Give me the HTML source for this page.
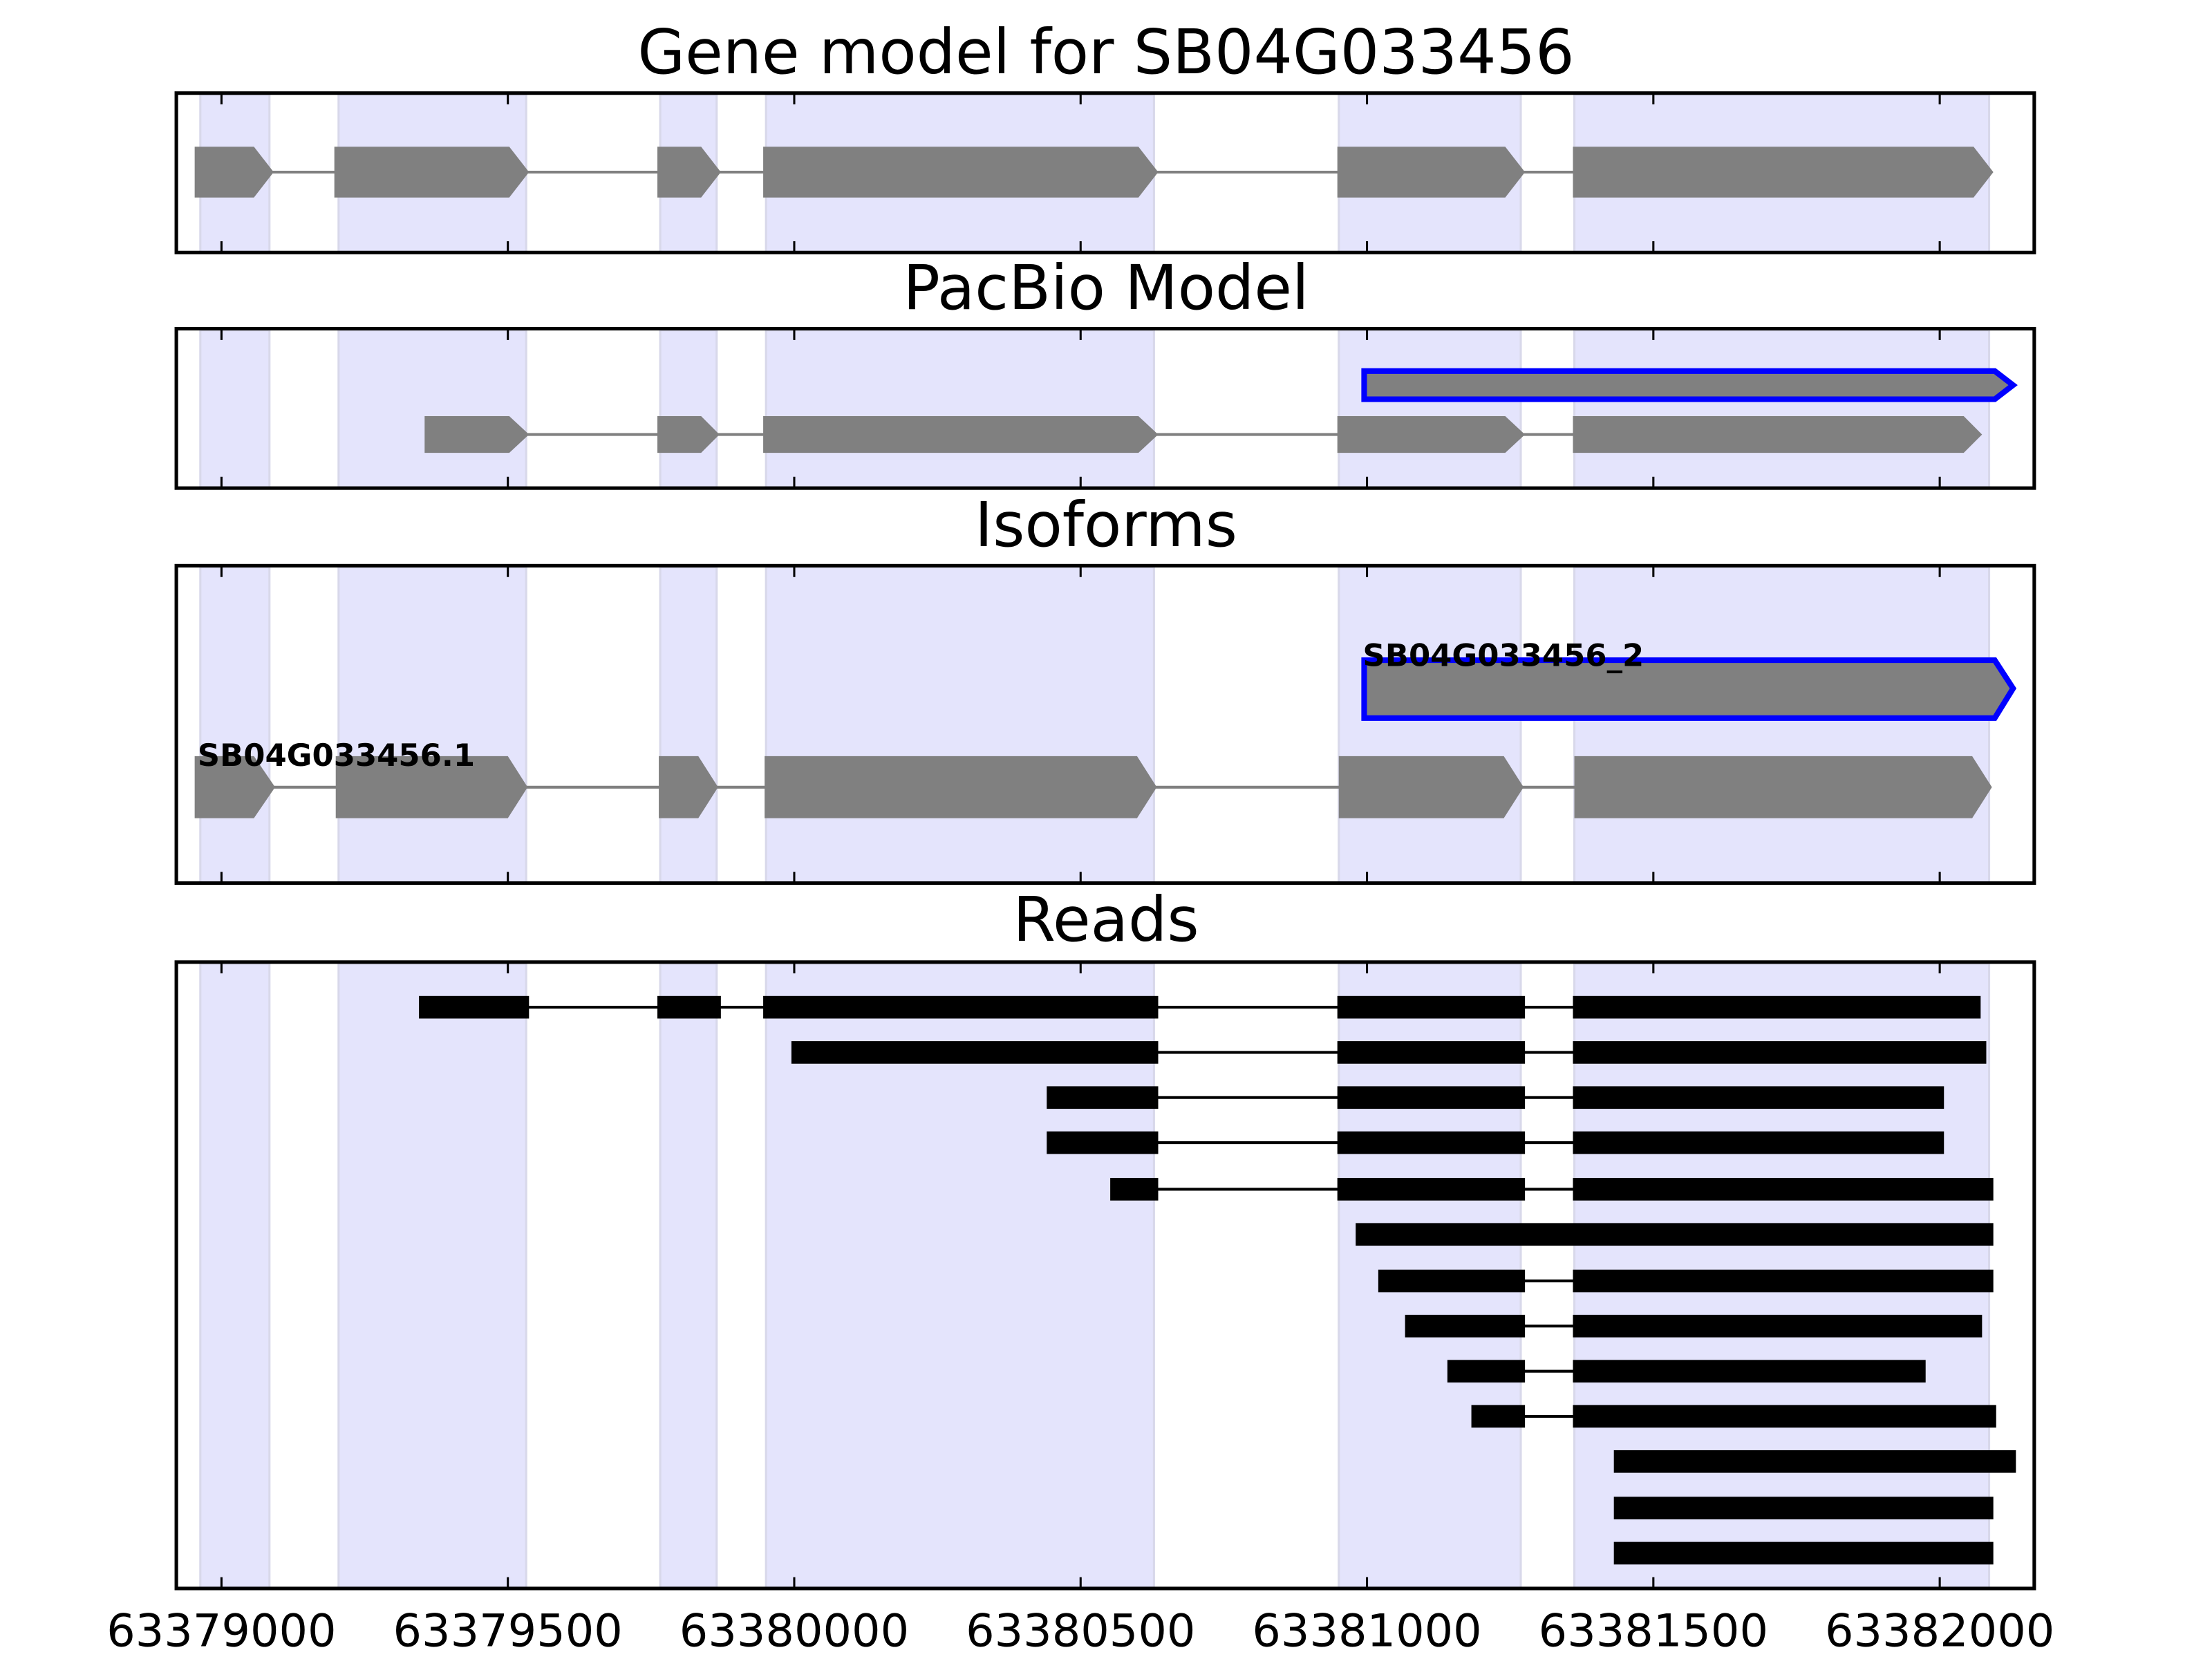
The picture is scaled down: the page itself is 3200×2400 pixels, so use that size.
<!DOCTYPE html>
<html><head><meta charset="utf-8"><style>html,body{margin:0;padding:0;background:#fff}svg{display:block}</style></head>
<body>
<svg width="3200" height="2400" viewBox="0 0 1568 1176" xmlns="http://www.w3.org/2000/svg" font-family="DejaVu Sans, Liberation Sans, sans-serif">
<g fill="#e4e4fc" stroke="#d8d8ea" stroke-width="1.5">
  <rect x="142" y="67" width="49" height="112"/><rect x="240" y="67" width="133" height="112"/><rect x="468" y="67" width="40" height="112"/><rect x="543" y="67" width="275" height="112"/><rect x="949" y="67" width="129" height="112"/><rect x="1116" y="67" width="294" height="112"/>
  <rect x="142" y="234" width="49" height="112"/><rect x="240" y="234" width="133" height="112"/><rect x="468" y="234" width="40" height="112"/><rect x="543" y="234" width="275" height="112"/><rect x="949" y="234" width="129" height="112"/><rect x="1116" y="234" width="294" height="112"/>
  <rect x="142" y="402" width="49" height="224"/><rect x="240" y="402" width="133" height="224"/><rect x="468" y="402" width="40" height="224"/><rect x="543" y="402" width="275" height="224"/><rect x="949" y="402" width="129" height="224"/><rect x="1116" y="402" width="294" height="224"/>
  <rect x="142" y="683" width="49" height="443"/><rect x="240" y="683" width="133" height="443"/><rect x="468" y="683" width="40" height="443"/><rect x="543" y="683" width="275" height="443"/><rect x="949" y="683" width="129" height="443"/><rect x="1116" y="683" width="294" height="443"/>
</g>

<g fill="#808080">
  <line x1="180" y1="122" x2="1400" y2="122" stroke="#808080" stroke-width="2"/>
  <polygon points="138,104 180,104 194,122 180,140 138,140"/>
  <polygon points="237,104 361,104 375,122 361,140 237,140"/>
  <polygon points="466,104 497,104 511,122 497,140 466,140"/>
  <polygon points="541,104 807,104 821,122 807,140 541,140"/>
  <polygon points="948,104 1067,104 1081,122 1067,140 948,140"/>
  <polygon points="1115,104 1399,104 1413,122 1399,140 1115,140"/>
</g>

<polygon points="967,263 1414,263 1427,273 1414,283 967,283" fill="#808080" stroke="#0000ff" stroke-width="4"/>
<g fill="#808080">
  <line x1="360" y1="308" x2="1395" y2="308" stroke="#808080" stroke-width="2"/>
  <polygon points="301,295 361,295 375,308 361,321 301,321"/>
  <polygon points="466,295 497,295 510,308 497,321 466,321"/>
  <polygon points="541,295 807,295 821,308 807,321 541,321"/>
  <polygon points="948,295 1067,295 1081,308 1067,321 948,321"/>
  <polygon points="1115,295 1392,295 1405,308 1392,321 1115,321"/>
</g>

<polygon points="967,468 1414,468 1427,488 1414,509 967,509" fill="#808080" stroke="#0000ff" stroke-width="4"/>
<g fill="#808080">
  <line x1="180" y1="558" x2="1400" y2="558" stroke="#808080" stroke-width="2"/>
  <polygon points="138,536 180,536 195,558 180,580 138,580"/>
  <polygon points="238,536 360,536 374,558 360,580 238,580"/>
  <polygon points="467,536 495,536 509,558 495,580 467,580"/>
  <polygon points="542,536 806,536 820,558 806,580 542,580"/>
  <polygon points="949,536 1066,536 1080,558 1066,580 949,580"/>
  <polygon points="1116,536 1398,536 1412,558 1398,580 1116,580"/>
</g>
<text x="966" y="472" font-size="22" font-weight="bold">SB04G033456_2</text>
<text x="140" y="543" font-size="22" font-weight="bold">SB04G033456.1</text>

<g fill="#000" stroke="#000" stroke-width="2">
  <line x1="374" y1="714" x2="1116" y2="714"/>
  <rect x="298" y="707" width="76" height="14"/><rect x="467" y="707" width="43" height="14"/><rect x="542" y="707" width="278" height="14"/><rect x="949" y="707" width="131" height="14"/><rect x="1116" y="707" width="287" height="14"/>
  <line x1="820" y1="746" x2="1116" y2="746"/>
  <rect x="562" y="739" width="258" height="14"/><rect x="949" y="739" width="131" height="14"/><rect x="1116" y="739" width="291" height="14"/>
  <line x1="820" y1="778" x2="1116" y2="778"/>
  <rect x="743" y="771" width="77" height="14"/><rect x="949" y="771" width="131" height="14"/><rect x="1116" y="771" width="261" height="14"/>
  <line x1="820" y1="810" x2="1116" y2="810"/>
  <rect x="743" y="803" width="77" height="14"/><rect x="949" y="803" width="131" height="14"/><rect x="1116" y="803" width="261" height="14"/>
  <line x1="820" y1="843" x2="1116" y2="843"/>
  <rect x="788" y="836" width="32" height="14"/><rect x="949" y="836" width="131" height="14"/><rect x="1116" y="836" width="296" height="14"/>
  <rect x="962" y="868" width="450" height="14"/>
  <line x1="1080" y1="908" x2="1116" y2="908"/>
  <rect x="978" y="901" width="102" height="14"/><rect x="1116" y="901" width="296" height="14"/>
  <line x1="1080" y1="940" x2="1116" y2="940"/>
  <rect x="997" y="933" width="83" height="14"/><rect x="1116" y="933" width="288" height="14"/>
  <line x1="1080" y1="972" x2="1116" y2="972"/>
  <rect x="1027" y="965" width="53" height="14"/><rect x="1116" y="965" width="248" height="14"/>
  <line x1="1080" y1="1004" x2="1116" y2="1004"/>
  <rect x="1044" y="997" width="36" height="14"/><rect x="1116" y="997" width="298" height="14"/>
  <rect x="1145" y="1029" width="283" height="14"/>
  <rect x="1145" y="1062" width="267" height="14"/>
  <rect x="1145" y="1094" width="267" height="14"/>
</g>

<g fill="none" stroke="#000" stroke-width="2.5">
  <rect x="125" y="66" width="1317" height="113"/>
  <rect x="125" y="233" width="1317" height="113"/>
  <rect x="125" y="401" width="1317" height="225"/>
  <rect x="125" y="682" width="1317" height="444"/>
</g>
<g stroke="#000" stroke-width="1.5">
  <path d="M157,66v8M360,66v8M563,66v8M766,66v8M969,66v8M1172,66v8M1375,66v8 M157,179v-8M360,179v-8M563,179v-8M766,179v-8M969,179v-8M1172,179v-8M1375,179v-8"/>
  <path d="M157,233v8M360,233v8M563,233v8M766,233v8M969,233v8M1172,233v8M1375,233v8 M157,346v-8M360,346v-8M563,346v-8M766,346v-8M969,346v-8M1172,346v-8M1375,346v-8"/>
  <path d="M157,401v8M360,401v8M563,401v8M766,401v8M969,401v8M1172,401v8M1375,401v8 M157,626v-8M360,626v-8M563,626v-8M766,626v-8M969,626v-8M1172,626v-8M1375,626v-8"/>
  <path d="M157,682v8M360,682v8M563,682v8M766,682v8M969,682v8M1172,682v8M1375,682v8 M157,1126v-8M360,1126v-8M563,1126v-8M766,1126v-8M969,1126v-8M1172,1126v-8M1375,1126v-8"/>
</g>

<g font-size="43.5" text-anchor="middle" fill="#000">
  <text x="784" y="52">Gene model for SB04G033456</text>
  <text x="784" y="219">PacBio Model</text>
  <text x="784" y="387">Isoforms</text>
  <text x="784" y="667">Reads</text>
</g>
<g font-size="32" text-anchor="middle" fill="#000">
  <text x="157" y="1167">63379000</text>
  <text x="360" y="1167">63379500</text>
  <text x="563" y="1167">63380000</text>
  <text x="766" y="1167">63380500</text>
  <text x="969" y="1167">63381000</text>
  <text x="1172" y="1167">63381500</text>
  <text x="1375" y="1167">63382000</text>
</g>
</svg>
</body></html>
